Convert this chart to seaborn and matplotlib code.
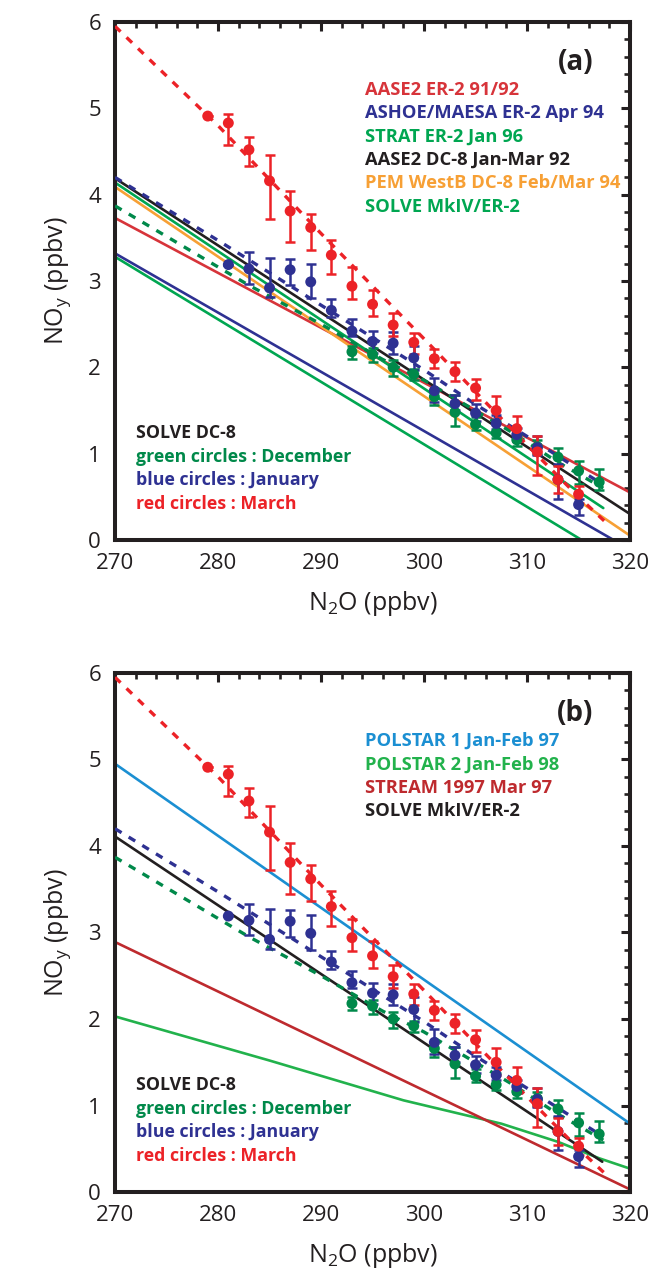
import numpy as np
import matplotlib
matplotlib.use("Agg")
import matplotlib.pyplot as plt
from matplotlib.ticker import MultipleLocator
import seaborn as sns

sns.set_style("white")
plt.rcParams["font.family"] = ["Open Sans", "DejaVu Sans"]
plt.rcParams["mathtext.default"] = "regular"

# ---- SOLVE DC-8 points (N2O, NOy, error bar low, error bar high) ----
mar_x = [279, 281, 283, 285, 287, 289, 291, 293, 295, 297, 299, 301, 303, 305, 307, 309, 311, 313, 315]
mar_y = [4.91, 4.83, 4.52, 4.16, 3.81, 3.62, 3.30, 2.94, 2.73, 2.49, 2.29, 2.10, 1.95, 1.76, 1.50, 1.29, 1.02, 0.70, 0.53]
mar_lo = [4.91, 4.58, 4.33, 3.72, 3.45, 3.36, 3.08, 2.79, 2.59, 2.36, 2.16, 1.99, 1.84, 1.62, 1.35, 1.15, 0.75, 0.54, 0.43]
mar_hi = [4.91, 4.93, 4.67, 4.46, 4.04, 3.78, 3.48, 3.16, 2.90, 2.63, 2.40, 2.21, 2.06, 1.87, 1.67, 1.44, 1.20, 0.86, 0.63]

jan_x = [281, 283, 285, 287, 289, 291, 293, 295, 297, 299, 301, 303, 305, 307, 309, 311, 313, 315]
jan_y = [3.19, 3.14, 2.92, 3.13, 2.99, 2.66, 2.42, 2.30, 2.28, 2.11, 1.73, 1.58, 1.47, 1.35, 1.22, 1.07, 0.70, 0.41]
jan_lo = [3.19, 2.97, 2.81, 2.95, 2.80, 2.58, 2.36, 2.17, 2.16, 1.97, 1.60, 1.50, 1.38, 1.29, 1.15, 0.98, 0.48, 0.29]
jan_hi = [3.19, 3.33, 3.27, 3.26, 3.20, 2.79, 2.56, 2.42, 2.41, 2.25, 1.88, 1.68, 1.57, 1.45, 1.30, 1.20, 0.88, 0.48]

dec_x = [293, 295, 297, 299, 301, 303, 305, 307, 309, 311, 313, 315, 317]
dec_y = [2.18, 2.15, 2.00, 1.92, 1.66, 1.48, 1.34, 1.24, 1.16, 1.08, 0.96, 0.80, 0.67]
dec_lo = [2.10, 2.06, 1.90, 1.85, 1.56, 1.32, 1.27, 1.18, 1.09, 1.00, 0.87, 0.65, 0.58]
dec_hi = [2.25, 2.22, 2.08, 1.98, 1.72, 1.68, 1.42, 1.38, 1.22, 1.16, 1.06, 0.91, 0.82]

# ---- SOLVE DC-8 fits (dashed) ----
mar_fit_x = [270, 280, 290, 300, 310, 315, 317.5]
mar_fit_y = [5.95, 4.80, 3.55, 2.33, 1.10, 0.50, 0.22]
jan_fit_x = [270, 280, 290, 300, 305, 310, 315, 317.4]
jan_fit_y = [4.20, 3.47, 2.72, 1.97, 1.57, 1.20, 0.82, 0.64]
dec_fit_x = [270, 283, 290, 296, 300, 308.5, 313, 317.4]
dec_fit_y = [3.87, 2.95, 2.50, 2.09, 1.85, 1.25, 0.90, 0.60]

# ---- earlier campaigns, panel (a) ----
aase2_er2_x, aase2_er2_y = [270, 320], [3.73, 0.55]
ashoe_x, ashoe_y = [270, 318.4], [3.32, 0.0]
strat_x, strat_y = [270, 315.3], [3.28, 0.0]
aase2_dc8_x, aase2_dc8_y = [270, 320], [4.19, 0.30]
pem_x, pem_y = [270, 320], [4.09, 0.05]
mkiv_a_x, mkiv_a_y = [270, 317.4], [4.14, 0.37]

# ---- panel (b) ----
polstar1_x, polstar1_y = [270, 320], [4.95, 0.79]
polstar2_x = [270, 285, 298, 307.5, 313, 317, 320]
polstar2_y = [2.03, 1.52, 1.06, 0.79, 0.58, 0.39, 0.27]
stream_x, stream_y = [270, 320], [2.89, 0.03]
mkiv_b_x, mkiv_b_y = [270, 317.3], [4.11, 0.35]

legend_a = ["AASE2 ER-2 91/92", "ASHOE/MAESA ER-2 Apr 94", "STRAT ER-2 Jan 96",
            "AASE2 DC-8 Jan-Mar 92", "PEM WestB DC-8 Feb/Mar 94", "SOLVE MkIV/ER-2"]
legend_a_colors = ["#d7343a", "#2e3192", "#00a651", "#231f20", "#f7a035", "#00a651"]
legend_b = ["POLSTAR 1 Jan-Feb 97", "POLSTAR 2 Jan-Feb 98", "STREAM 1997 Mar 97", "SOLVE MkIV/ER-2"]
legend_b_colors = ["#1b8fd2", "#22b24c", "#be2a2e", "#231f20"]
dc8_text = ["SOLVE DC-8", "green circles : December", "blue circles : January", "red circles : March"]

RED, BLUE, GREEN = "#ec2227", "#2e3192", "#00894a"
dc8_colors = ["#231f20", GREEN, BLUE, RED]
INK = "#231f20"


def solid(ax, x, y, color):
    sns.lineplot(x=x, y=y, ax=ax, color=color, lw=1.9, sort=False, zorder=2)


def dc8_layer(ax):
    for fx, fy, c in [(dec_fit_x, dec_fit_y, GREEN), (jan_fit_x, jan_fit_y, BLUE), (mar_fit_x, mar_fit_y, RED)]:
        sns.lineplot(x=fx, y=fy, ax=ax, color=c, lw=2.4, linestyle=(0, (2.3, 2.5)),
                     sort=False, zorder=3)
    for px, py, lo, hi, c in [(dec_x, dec_y, dec_lo, dec_hi, GREEN),
                              (jan_x, jan_y, jan_lo, jan_hi, BLUE),
                              (mar_x, mar_y, mar_lo, mar_hi, RED)]:
        py = np.array(py)
        err = [py - np.array(lo), np.array(hi) - py]
        ax.errorbar(px, py, yerr=err, fmt="none", ecolor=c, elinewidth=1.8,
                    capsize=3.6, capthick=1.8, zorder=4)
        sns.scatterplot(x=px, y=py, ax=ax, color=c, s=62, edgecolor="none", zorder=5)


def style_axes(ax, tag, names, colors):
    ax.set_xlim(270, 320)
    ax.set_ylim(0, 6)
    ax.xaxis.set_major_locator(MultipleLocator(10))
    ax.xaxis.set_minor_locator(MultipleLocator(2))
    ax.yaxis.set_major_locator(MultipleLocator(1))
    ax.yaxis.set_minor_locator(MultipleLocator(0.2))
    ax.tick_params(which="both", direction="in", top=True, right=True, color=INK, labelcolor=INK)
    ax.tick_params(which="major", length=6.5, width=2.2, labelsize=16)
    ax.tick_params(axis="x", which="major", pad=9)
    ax.tick_params(axis="y", which="major", pad=10)
    ax.tick_params(which="minor", length=4, width=1.9)
    for s in ax.spines.values():
        s.set_linewidth(2.9)
        s.set_color(INK)
    ax.set_xlabel("N$_2$O (ppbv)", fontsize=18, labelpad=11, color=INK)
    ax.set_ylabel("NO$_y$ (ppbv)", fontsize=18, labelpad=11, color=INK)
    ax.text(0.928, 0.921, tag, transform=ax.transAxes, ha="right", va="center",
            fontsize=20, fontweight="bold", color=INK)
    for i, (t, c) in enumerate(zip(names, colors)):
        ax.text(0.485, 0.869 - i * 0.0452, t, transform=ax.transAxes, ha="left",
                va="center", fontsize=13.2, fontweight="bold", color=c)
    for i, (t, c) in enumerate(zip(dc8_text, dc8_colors)):
        ax.text(0.04, 0.206 - i * 0.0455, t, transform=ax.transAxes, ha="left",
                va="center", fontsize=12.8, fontweight="bold", color=c)


fig = plt.figure(figsize=(6.52, 12.70), dpi=100)
ax_a = fig.add_axes([0.1764, 0.5748, 0.790, 0.4079])
ax_b = fig.add_axes([0.1764, 0.0614, 0.790, 0.4087])

solid(ax_a, aase2_er2_x, aase2_er2_y, "#d7343a")
solid(ax_a, ashoe_x, ashoe_y, "#2e3192")
solid(ax_a, strat_x, strat_y, "#00a651")
solid(ax_a, pem_x, pem_y, "#f7a035")
solid(ax_a, mkiv_a_x, mkiv_a_y, "#00a651")
solid(ax_a, aase2_dc8_x, aase2_dc8_y, INK)
dc8_layer(ax_a)
style_axes(ax_a, "(a)", legend_a, legend_a_colors)

solid(ax_b, polstar1_x, polstar1_y, "#1b8fd2")
solid(ax_b, polstar2_x, polstar2_y, "#22b24c")
solid(ax_b, stream_x, stream_y, "#be2a2e")
solid(ax_b, mkiv_b_x, mkiv_b_y, INK)
dc8_layer(ax_b)
style_axes(ax_b, "(b)", legend_b, legend_b_colors)

fig.savefig("out.png", dpi=100)
